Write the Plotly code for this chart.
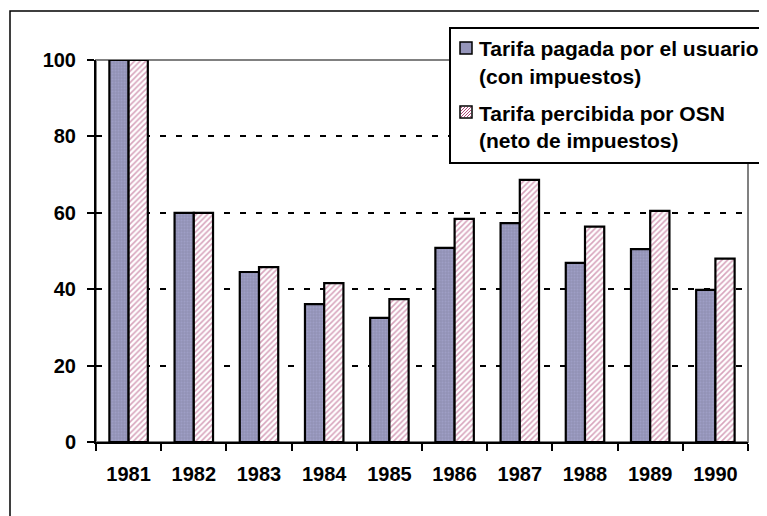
import plotly.graph_objects as go

years = ["1981", "1982", "1983", "1984", "1985", "1986", "1987", "1988", "1989", "1990"]
tarifa_usuario = [100, 60, 44.5, 36.1, 32.5, 50.8, 57.3, 46.9, 50.5, 39.8]
tarifa_osn = [100, 60, 45.8, 41.6, 37.4, 58.4, 68.6, 56.4, 60.5, 48.0]
y_ticks = [0, 20, 40, 60, 80, 100]
legend_lines = [
    "Tarifa pagada por el usuario",
    "(con impuestos)",
    "Tarifa percibida por OSN",
    "(neto de impuestos)",
]

W, H = 767, 516
OFF = 8  # page body margin
L, R, T, B = 88, 27, 52, 82
PW, PH = W - L - R, H - T - B
FONT = "Liberation Sans, Arial, sans-serif"


# convert screen pixel positions to paper coords
def px_x(x):
    return (x - OFF - L) / PW


def px_y(y):
    return (H - B - (y - OFF)) / PH


fig = go.Figure()
fig.add_trace(go.Bar(
    x=years, y=tarifa_usuario, name=legend_lines[0],
    marker=dict(color="#9595ba", line=dict(color="black", width=2.2),
                pattern=dict(shape=".", fgcolor="#a9a9d6", bgcolor="#9393b6", size=3, solidity=0.3)),
))
fig.add_trace(go.Bar(
    x=years, y=tarifa_osn, name=legend_lines[2],
    marker=dict(color="white", line=dict(color="black", width=2.2),
                pattern=dict(shape="/", fgcolor="#b04a7a", bgcolor="white", size=4, solidity=0.4)),
))

shapes = [
    # plot area border (grey, top/right visible)
    dict(type="rect", xref="paper", yref="paper", x0=0, x1=1, y0=0, y1=1,
         line=dict(color="#808080", width=2), layer="between"),
    # outer chart frame
    dict(type="rect", xref="paper", yref="paper", x0=px_x(10), x1=px_x(790),
         y0=px_y(540), y1=px_y(11), line=dict(color="black", width=1.5)),
    # legend box
    dict(type="rect", xref="paper", yref="paper", x0=px_x(450), x1=px_x(790),
         y0=px_y(163), y1=px_y(28), line=dict(color="black", width=2), fillcolor="white"),
    # legend swatch 1
    dict(type="rect", xref="paper", yref="paper", x0=px_x(460), x1=px_x(472),
         y0=px_y(54), y1=px_y(42), line=dict(color="black", width=1.5), fillcolor="#9595ba"),
    # legend swatch 2
    dict(type="rect", xref="paper", yref="paper", x0=px_x(460), x1=px_x(472),
         y0=px_y(118), y1=px_y(106), line=dict(color="black", width=1.5), fillcolor="white"),
]

# hatch inside swatch 2
sx0, sx1, sy0, sy1 = 461, 471, 107, 117
hatch = ""
for k in range(-9, 10, 3):
    xa, ya = sx0 + max(0, k), sy1 - max(0, -k)
    xb, yb = sx1 - max(0, -k), sy0 + max(0, k)
    if xa < xb:
        hatch += f"M{px_x(xa)},{px_y(ya)} L{px_x(xb)},{px_y(yb)} "
shapes.append(dict(type="path", xref="paper", yref="paper", path=hatch,
                   line=dict(color="#b04a7a", width=1)))

line_y = [49, 76, 113, 140]
annotations = [
    dict(text=f"<b>{txt}</b>", xref="paper", yref="paper", x=px_x(477), y=px_y(yy),
         xanchor="left", yanchor="middle", showarrow=False,
         font=dict(family=FONT, size=21, color="black"))
    for txt, yy in zip(legend_lines, line_y)
]

fig.update_layout(
    width=W, height=H,
    margin=dict(l=L, r=R, t=T, b=B),
    paper_bgcolor="white", plot_bgcolor="white",
    barmode="group", bargap=0.41, bargroupgap=0,
    showlegend=False,
    font=dict(family=FONT, size=20, color="black"),
    shapes=shapes,
    annotations=annotations,
    xaxis=dict(
        showline=True, linecolor="black", linewidth=2,
        ticks="outside", ticklen=7, tickwidth=2, tickcolor="black",
        tickson="boundaries", showgrid=False,
        tickfont=dict(family=FONT, size=20, weight="bold"),
        ticklabelstandoff=13,
    ),
    yaxis=dict(
        range=[0, 100], tickvals=y_ticks,
        showline=True, linecolor="black", linewidth=2,
        ticks="outside", ticklen=7, tickwidth=2, tickcolor="black",
        showgrid=True, gridcolor="black", gridwidth=2, griddash="6px,10px",
        zeroline=False,
        tickfont=dict(family=FONT, size=20, weight="bold"),
        ticklabelstandoff=7,
    ),
)

fig.write_html("out.html")
